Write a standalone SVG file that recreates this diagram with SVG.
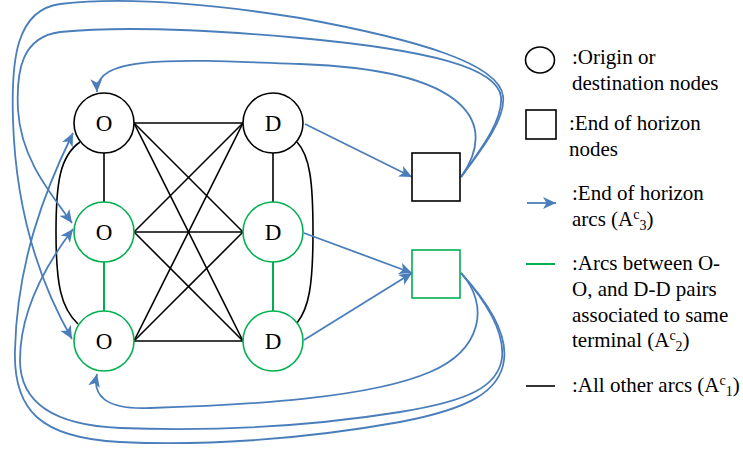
<svg xmlns="http://www.w3.org/2000/svg" width="743" height="449" viewBox="0 0 743 449">
  <defs>
    <style>
      .node { fill: #ffffff; stroke-width: 1.6; }
      .blk { stroke: #000000; }
      .grn { stroke: #00b050; }
      .arc1 { stroke: #000000; stroke-width: 1.6; fill: none; }
      .arc2 { stroke: #00b050; stroke-width: 2; fill: none; }
      .arc3 { stroke: #4a7ebb; stroke-width: 1.8; fill: none; marker-end: url(#stealth); }
    </style>
    <marker id="stealth" markerUnits="userSpaceOnUse" markerWidth="14" markerHeight="12" refX="13" refY="6" orient="auto">
      <path d="M0,0 L13,6 L0,12 L3.5,6 z" fill="#4a7ebb"/>
    </marker>
  </defs>

  <!-- connectors -->
  <g id="connectors">
    <!-- A^c_1: O-D pairs -->
    <line class="arc1" x1="134" y1="123" x2="243" y2="123"/>
    <line class="arc1" x1="134" y1="123" x2="243" y2="232"/>
    <line class="arc1" x1="134" y1="123" x2="243" y2="341"/>
    <line class="arc1" x1="134" y1="232" x2="243" y2="123"/>
    <line class="arc1" x1="134" y1="232" x2="243" y2="232" stroke-width="2.2"/>
    <line class="arc1" x1="134" y1="232" x2="243" y2="341"/>
    <line class="arc1" x1="134" y1="341" x2="243" y2="123"/>
    <line class="arc1" x1="134" y1="341" x2="243" y2="232"/>
    <line class="arc1" x1="134" y1="341" x2="243" y2="341"/>
    <!-- A^c_1: same-side pairs of different terminals -->
    <line class="arc1" x1="104" y1="153" x2="104" y2="202"/>
    <line class="arc1" x1="273" y1="153" x2="273" y2="202" stroke-width="2.4"/>
    <path class="arc1" d="M80,142 C60,156 56,182 56,232 C56,285 61,308 78,324"/>
    <path class="arc1" d="M297,142 C310,156 313,182 313,232 C313,285 309,308 297,323"/>
    <!-- A^c_2 -->
    <line class="arc2" x1="104" y1="262" x2="104" y2="311"/>
    <line class="arc2" x1="273" y1="262" x2="273" y2="311" stroke-width="2.6"/>
    <!-- A^c_3: destinations into end-of-horizon nodes -->
    <line class="arc3" x1="305" y1="124" x2="412" y2="177"/>
    <line class="arc3" x1="304" y1="233" x2="412" y2="273"/>
    <line class="arc3" x1="304" y1="340" x2="412" y2="273"/>
    <!-- A^c_3: end-of-horizon nodes back to origins -->
    <path class="arc3" d="M461,177 C498,125 472,70 300,64 C170,59 95,55 97,92"/>
    <path class="arc3" d="M461,177 C482,148 503,120 501,97 C498,68 430,50 300,38 C200,29 120,26 60,32 C22,37 16,70 18,110 C21,160 52,195 72,223"/>
    <path class="arc3" d="M461,177 C483,148 506,118 503,96 C499,64 420,40 300,18 C200,2 120,-3 60,4 C16,10 11,60 13,120 C16,220 45,292 72,339"/>
    <path class="arc3" d="M461,273 C490,305 482,350 430,372 C370,398 250,405 150,408 C105,410 92,395 97,374"/>
    <path class="arc3" d="M461,273 C483,298 505,330 502,358 C498,387 468,401 400,412 C300,428 200,431 120,428 C50,425 20,400 20,360 C20,310 48,262 73,229"/>
    <path class="arc3" d="M461,273 C484,298 508,330 504,360 C500,392 468,409 400,422 C300,440 200,446 120,442 C40,438 13,410 15,350 C17,262 45,190 73,133"/>
  </g>

  <!-- origin and destination nodes: labels share one font setup -->
  <g font-family="Liberation Serif, serif" font-size="23" text-anchor="middle" fill="#000000">
    <g id="o1"><circle class="node blk" cx="104" cy="123" r="30"/><text x="104" y="131">O</text></g>
    <g id="o2"><circle class="node grn" cx="104" cy="232" r="30"/><text x="104" y="240">O</text></g>
    <g id="o3"><circle class="node grn" cx="104" cy="341" r="30"/><text x="104" y="349">O</text></g>
    <g id="d1"><circle class="node blk" cx="273" cy="123" r="30"/><text x="273" y="131">D</text></g>
    <g id="d2"><circle class="node grn" cx="273" cy="232" r="30"/><text x="273" y="240">D</text></g>
    <g id="d3"><circle class="node grn" cx="273" cy="341" r="30"/><text x="273" y="349">D</text></g>
  </g>
  <!-- end-of-horizon nodes -->
  <g id="eoh1"><rect class="node blk" x="412" y="153" width="48" height="48"/></g>
  <g id="eoh2"><rect class="node grn" x="412" y="250" width="48" height="48"/></g>

  <!-- legend -->
  <g id="legend">
    <ellipse cx="540" cy="60" rx="14.5" ry="13" fill="#ffffff" stroke="#000000" stroke-width="1.6"/>
    <rect x="526" y="110" width="30" height="29" fill="#ffffff" stroke="#000000" stroke-width="1.6"/>
    <line class="arc3" x1="527" y1="203" x2="556" y2="203"/>
    <line class="arc2" x1="526" y1="264" x2="555" y2="264"/>
    <line class="arc1" x1="526" y1="386" x2="555" y2="386"/>
    <g font-family="Liberation Serif, serif" font-size="21" fill="#000000">
      <text x="572" y="64">:Origin or</text>
      <text x="572" y="90">destination nodes</text>
      <text x="569" y="130">:End of horizon</text>
      <text x="569" y="156">nodes</text>
      <text x="572" y="200">:End of horizon</text>
      <text x="572" y="226">arcs (A<tspan font-size="14" dy="-7">c</tspan><tspan font-size="14" dy="11">3</tspan><tspan dy="-4">)</tspan></text>
      <text x="572" y="270">:Arcs between O-</text>
      <text x="572" y="296">O, and D-D pairs</text>
      <text x="572" y="322">associated to same</text>
      <text x="572" y="347">terminal (A<tspan font-size="14" dy="-7">c</tspan><tspan font-size="14" dy="11">2</tspan><tspan dy="-4">)</tspan></text>
      <text x="572" y="392">:All other arcs (A<tspan font-size="14" dy="-7">c</tspan><tspan font-size="14" dy="11">1</tspan><tspan dy="-4">)</tspan></text>
    </g>
  </g>
</svg>
